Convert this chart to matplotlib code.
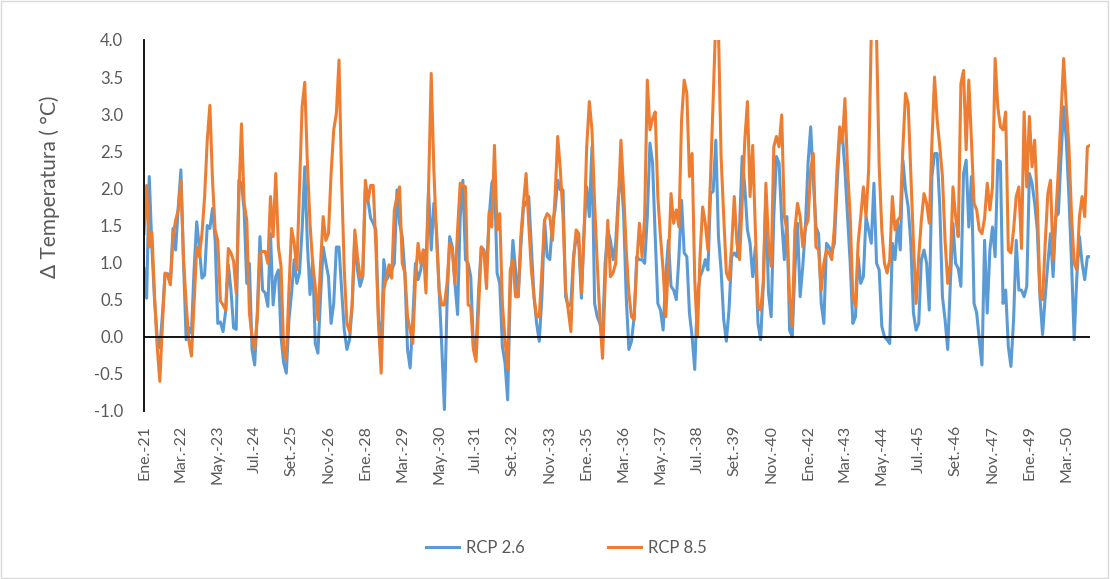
import matplotlib.pyplot as plt
from matplotlib.patches import Rectangle

# Monthly temperature anomaly, Jan 2021 .. Dec 2050
rcp26 = [
    0.92, 0.52, 2.16, 1.2, 0.5, 0.0, -0.15, 0.3, 0.85, 0.85, 0.72, 1.46, 1.17, 1.75, 2.25, 1.0, -0.04, 0.12,
    0.05, 0.9, 1.55, 1.2, 0.79, 0.83, 1.5, 1.46, 1.73, 1.3, 0.18, 0.2, 0.07, 0.35, 0.97, 0.63, 0.12,
    0.1, 2.11, 2.07, 1.71, 0.72, 0.99, -0.17, -0.38, 0.32, 1.35, 0.63, 0.59, 0.41, 1.39, 0.43, 0.81, 0.9,
    0.0, -0.35, -0.49, 0.23, 0.59, 1.04, 0.72, 0.86, 1.44, 2.29, 1.26, 0.57, 1.04, -0.09, -0.22, 0.54, 1.21, 1.0,
    0.81, 0.18, 0.45, 1.21, 1.21, 0.63, 0.09, -0.17, -0.04, 0.41, 1.35, 0.9, 0.68, 0.81, 1.98, 1.84, 1.6,
    1.53, 1.44, 0.23, -0.17, 1.04, 0.77, 0.83, 0.9, 0.99, 1.98, 1.53, 1.35, 0.86, -0.17, -0.42, 0.23, 0.99, 0.77, 0.9,
    1.17, 0.99, 1.98, 1.17, 1.8, 1.44, 0.63, -0.13, -0.98, 0.45, 1.35, 1.21, 0.72, 0.3, 1.62, 2.11, 1.04, 0.99,
    0.81, -0.13, -0.17, 0.63, 1.21, 1.17, 0.9, 1.62, 2.07, 2.16, 0.86, 0.72, -0.13, -0.35, -0.85, 0.63, 1.3, 0.9,
    0.54, 1.21, 1.75, 1.8, 1.89, 1.21, 0.54, 0.18, -0.06, 0.54, 1.57, 1.08, 1.04, 1.53, 1.71, 2.11, 1.98, 1.98,
    0.54, 0.41, 0.45, 1.08, 1.35, 1.26, 0.52, 1.44, 2.02, 1.62, 2.56, 0.45, 0.27, 0.18, 0.0, 0.99, 1.44, 1.3,
    1.04, 1.26, 1.89, 2.2, 1.66, 0.54, -0.17, -0.06, 0.27, 1.08, 1.04, 1.04, 0.99, 1.62, 2.61, 2.34, 1.35, 0.45,
    0.36, 0.09, 0.81, 1.3, 0.68, 0.63, 0.5, 1.08, 1.84, 1.13, 1.08, 0.32, 0.0, -0.44, 0.54, 0.81, 0.9,
    1.04, 0.9, 1.93, 1.96, 2.65, 1.35, 0.9, 0.23, -0.06, 0.36, 1.08, 1.13, 1.08, 1.48, 2.43, 2.02, 1.44, 1.26,
    0.81, 1.21, 0.18, -0.04, 0.68, 1.89, 0.59, 0.27, 1.62, 2.43, 2.34, 1.57, 1.04, 1.62, 0.09, 0.0, 0.9, 1.53,
    0.54, 0.95, 1.48, 2.34, 2.83, 2.11, 1.48, 1.39, 0.45, 0.18, 1.26, 1.21, 1.13, 1.26, 2.02, 2.7, 2.74, 2.25,
    1.62, 0.99, 0.18, 0.27, 1.08, 0.72, 0.81, 1.62, 1.44, 1.26, 2.07, 0.99, 0.9, 0.14, 0.0, -0.04, -0.09, 1.26,
    1.04, 1.53, 1.17, 2.38, 1.98, 1.75, 1.26, 0.32, 0.09, 0.18, 1.04, 1.17, 0.99, 0.36, 2.16, 2.47, 2.47, 1.75,
    0.54, 0.23, -0.17, 0.72, 1.53, 0.99, 0.92, 0.68, 2.2, 2.38, 1.48, 2.16, 0.45, 0.32, -0.04, -0.38, 1.3,
    0.32, 1.17, 1.48, 1.08, 2.38, 2.36, 0.45, 0.63, -0.13, -0.4, 0.23, 1.3, 0.63, 0.63, 0.54, 0.68, 2.2, 2.07,
    1.8, 1.44, 0.54, 0.03, 0.54, 0.99, 1.39, 0.81, 1.62, 1.66, 2.43, 3.1, 2.65, 1.89, 0.99, -0.04, 0.81, 1.35,
    0.99, 0.77, 1.08, 1.08,
]

rcp85 = [
    1.39, 2.04, 1.21, 1.41, 0.54, -0.13, -0.6, 0.18, 0.86, 0.83, 0.70, 1.35, 1.57, 1.71, 2.11, 1.04, 0.45, -0.04,
    -0.26, 0.45, 1.21, 1.08, 1.39, 1.89, 2.65, 3.12, 2.11, 1.44, 1.30, 0.48, 0.43, 0.36, 1.19, 1.13, 1.02,
    0.59, 1.89, 2.87, 1.8, 1.57, 0.32, 0.0, -0.17, 0.27, 1.13, 1.15, 1.15, 0.99, 1.89, 1.35, 2.2, 1.21,
    0.95, -0.17, -0.31, 0.63, 1.46, 1.26, 0.9, 2.02, 3.1, 3.43, 2.34, 1.53, 0.99, 0.68, 0.23, 0.99, 1.62, 1.30,
    1.39, 2.2, 2.79, 3.01, 3.73, 2.11, 0.9, 0.18, 0.07, 0.45, 1.44, 1.08, 0.81, 0.81, 2.11, 1.84, 2.04, 2.04,
    1.21, 0.18, -0.49, 0.63, 0.81, 0.97, 0.79, 1.71, 1.89, 2.02, 0.99, 0.86, 0.27, 0.09, -0.09, 0.77, 1.26, 0.99,
    1.17, 0.59, 2.02, 3.55, 2.25, 1.35, 0.63, 0.43, 0.43, 0.72, 1.26, 1.17, 0.72, 1.44, 2.07, 2.04, 2.02, 0.43,
    0.41, -0.17, -0.33, 0.41, 1.21, 1.13, 0.65, 1.69, 1.48, 2.58, 1.44, 1.66, 0.45, -0.04, -0.44, 0.9, 1.04, 0.54,
    0.54, 1.35, 1.8, 2.2, 1.53, 0.9, 0.54, 0.27, 0.27, 0.9, 1.57, 1.66, 1.62, 1.3, 1.89, 2.7, 2.25, 1.62,
    0.63, 0.36, 0.07, 1.04, 1.44, 1.39, 0.59, 1.39, 2.56, 3.17, 2.79, 1.8, 0.99, 0.27, -0.29, 0.72, 1.57, 0.81,
    0.86, 0.99, 1.8, 2.65, 1.98, 1.17, 0.59, 0.27, 0.23, 0.99, 1.53, 1.08, 1.62, 3.46, 2.79, 2.94, 3.03, 1.89,
    1.35, 0.9, 0.27, 0.99, 1.93, 1.53, 1.71, 1.48, 2.92, 3.46, 3.28, 2.16, 2.47, 0.77, 0.0, 1.08, 1.75,
    1.53, 1.17, 2.16, 3.2, 4.3, 4.15, 2.43, 1.62, 0.86, 0.77, 1.21, 1.89, 1.26, 1.04, 1.8, 2.65, 3.17, 1.89,
    2.58, 1.44, 0.41, 0.36, 0.72, 2.07, 1.26, 0.95, 2.56, 2.7, 2.56, 2.99, 1.62, 1.44, 0.54, 0.14, 1.44, 1.8,
    1.62, 1.21, 1.48, 1.57, 2.25, 2.47, 1.21, 1.17, 0.63, 0.99, 1.17, 1.13, 1.04, 1.48, 2.25, 2.83, 2.61, 3.21,
    2.25, 1.62, 0.54, 0.41, 1.26, 1.62, 2.02, 1.62, 2.25, 4.1, 4.2, 4.05, 2.3, 1.44, 0.99, 0.86, 1.04, 1.89,
    1.44, 1.57, 1.62, 2.56, 3.28, 3.14, 2.2, 1.26, 0.45, 1.08, 1.57, 1.93, 1.8, 1.53, 2.61, 3.5, 2.92, 2.56,
    2.16, 1.3, 0.72, 0.99, 2.02, 1.62, 1.35, 3.41, 3.59, 2.52, 3.46, 2.65, 1.8, 1.71, 1.44, 1.39, 1.6,
    2.07, 1.71, 2.02, 3.75, 3.1, 2.83, 2.79, 3.03, 1.17, 1.13, 1.44, 1.89, 2.02, 1.19, 3.03, 2.02, 2.97, 2.29,
    2.65, 1.8, 0.59, 0.5, 1.26, 1.93, 2.11, 1.04, 1.62, 2.25, 3.0, 3.75, 3.1, 2.56, 1.62, 0.99, 0.9, 1.62,
    1.89, 1.62, 2.56, 2.58,
]

month_names = ['Ene', 'Feb', 'Mar', 'Abr', 'May', 'Jun', 'Jul', 'Ago', 'Set', 'Oct', 'Nov', 'Dic']
first_year = 21
label_step = 14

months = list(range(len(rcp26)))
tick_pos = list(range(0, len(months), label_step))
tick_labels = [f'{month_names[m % 12]}.-{first_year + m // 12:02d}' for m in tick_pos]

plt.rcParams['font.family'] = ['Lato', 'DejaVu Sans']
text_col = '#595959'

fig = plt.figure(figsize=(11.10, 5.79), dpi=100)
ax = fig.add_axes([144 / 1110, 1 - 411 / 579, 946 / 1110, 371 / 579])

ax.plot(months, rcp26, color='#5B9BD5', lw=2.2, label='RCP 2.6', solid_joinstyle='round')
ax.plot(months, rcp85, color='#ED7D31', lw=2.2, label='RCP 8.5', solid_joinstyle='round')
ax.axhline(0, color='black', lw=1.3, zorder=3)

ax.set_xlim(0, len(months) - 1)
ax.set_ylim(-1.0, 4.0)
ax.set_yticks([v / 2 for v in range(-2, 9)])
ax.set_yticklabels([f'{v / 2:.1f}' for v in range(-2, 9)])
ax.set_xticks(tick_pos)
ax.set_xticklabels(tick_labels, rotation=90)
ax.tick_params(axis='y', length=0, pad=15, labelsize=12, labelcolor=text_col)
ax.tick_params(axis='x', length=0, pad=10, labelsize=11.5, labelcolor=text_col)

for side in ('top', 'right', 'bottom'):
    ax.spines[side].set_visible(False)
ax.spines['left'].set_color('black')
ax.spines['left'].set_linewidth(1.3)

fig.text(50 / 1110, 1 - 187 / 579, 'Δ Temperatura ( °C)', rotation=90,
         ha='center', va='center', fontsize=15, color=text_col)

fig.legend(loc='center', bbox_to_anchor=(566 / 1110, 1 - 548 / 579), ncol=2,
           frameon=False, fontsize=12, labelcolor=text_col, handlelength=2.0,
           handletextpad=0.4, columnspacing=5.0)

fig.patches.append(Rectangle((0.001, 0.002), 0.997, 0.996, transform=fig.transFigure,
                             fill=False, edgecolor='#d9d9d9', lw=1))

fig.savefig('out.png', dpi=100)
